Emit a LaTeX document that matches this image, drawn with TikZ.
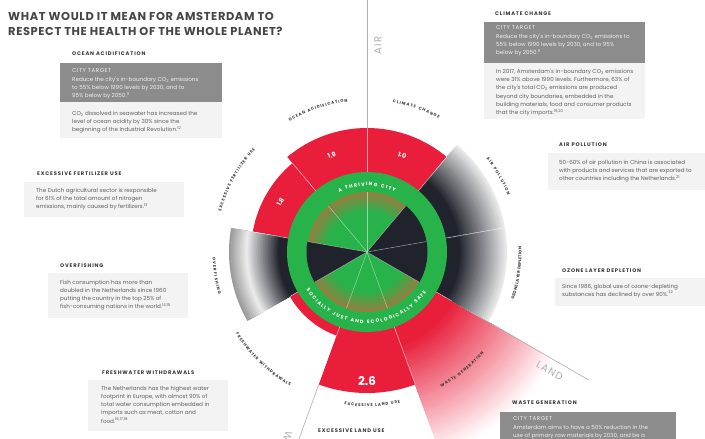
\documentclass[tikz,border=0pt]{standalone}
\usepackage{fontspec}
\setmainfont{Poppins}
\newfontfamily\titlefont[LetterSpace=5.5]{Poppins}
\newfontfamily\hdfont[LetterSpace=16]{Poppins}
\newfontfamily\bodyff{Poppins}
\newfontfamily\ctff[LetterSpace=10]{Poppins}
\newfontfamily\wlff{Poppins}
\newfontfamily\axff[LetterSpace=12]{Poppins}
\usetikzlibrary{decorations.text}
\definecolor{cred}{RGB}{232,30,58}
\definecolor{cgreen}{RGB}{40,178,74}
\definecolor{cdark}{RGB}{32,35,43}
\definecolor{cbrown}{RGB}{150,125,62}
\definecolor{clight}{RGB}{238,238,238}
\definecolor{crim}{RGB}{150,150,150}
\definecolor{lbox}{RGB}{243,243,243}
\definecolor{dbox}{RGB}{140,140,140}
\definecolor{htxt}{RGB}{55,55,55}
\definecolor{btxt}{RGB}{95,95,95}
\definecolor{ttl}{RGB}{70,70,70}
\definecolor{axc}{RGB}{175,175,175}
% annular sector: colour, angle1, angle2, inner r, outer r
\newcommand\annsec[5]{\fill[#1] (#2:#4) arc[start angle=#2,end angle=#3,radius=#4] -- (#3:#5) arc[start angle=#3,end angle=#2,radius=#5] -- cycle;}
% radial gradient sector: a1, a2, rin, rout, colour in, colour out, steps
\newcommand\gradsec[7]{%
  \foreach \k in {#7,...,1}{%
    \pgfmathsetmacro\rr{#3+(#4-#3)*\k/#7}%
    \pgfmathtruncatemacro\pp{100*(\k-0.5)/#7}%
    \annsec{#6!\pp!#5}{#1}{#2}{#3}{\rr}%
  }}
\begin{document}
\begin{tikzpicture}[x=1pt,y=1pt,
  hdr/.style={font=\hdfont\bfseries\fontsize{5.2}{6}\selectfont, text=htxt, anchor=base west, inner sep=0},
  body/.style={font=\bodyff\fontsize{5.6}{8.3}\selectfont, text=btxt, align=left, anchor=north west, inner sep=0},
  bodyw/.style={body, text=white!94!black},
  ttlstyle/.style={font=\titlefont\bfseries\fontsize{11.4}{13}\selectfont, text=ttl, anchor=base west, inner sep=0},
  val/.style={font=\bodyff\bfseries\fontsize{6.5}{7}\selectfont, text=white, inner sep=0},
  axlbl/.style={font=\axff\fontsize{10}{12}\selectfont, text=axc, inner sep=0},
  axline/.style={draw=axc, line width=0.6pt},
  sep/.style={draw=white, opacity=0.6, line width=0.6pt},
  wlabel/.style={decorate, decoration={text along path, text align=fit to path,
     text={|\wlff\bfseries\fontsize{4.0}{5}\selectfont\color{htxt}|#1}}},
  rlabel/.style={decorate, decoration={text along path, text align=fit to path,
     text={|\wlff\bfseries\fontsize{4.8}{5}\selectfont\color{white}|#1}}}
]
\useasboundingbox (0,0) rectangle (705,439);
\fill[white] (0,0) rectangle (705,439);
\clip (0,0) rectangle (705,439);

% ================= wheel =================
\begin{scope}[shift={(367,187)}]
  % waste generation (fading red)
  \gradsec{-30}{-70}{98}{215}{cred}{white}{45}
  \annsec{cred}{-30}{-70}{79.5}{98.5}
  % red segments
  \annsec{cred}{130}{90}{79.5}{124}
  \annsec{cred}{90}{50}{79.5}{124}
  \annsec{cred}{170}{130}{79.5}{116}
  \annsec{cred}{-70}{-110}{79.5}{141}
  \annsec{cred}{-110}{-150}{79.5}{89}
  % grey segments
  \gradsec{50}{10}{92}{140}{cdark}{clight}{30}
  \annsec{cdark}{50}{10}{79.5}{92.5}
  \gradsec{10}{-30}{92}{140}{cdark}{clight}{30}
  \annsec{cdark}{10}{-30}{79.5}{92.5}
  \gradsec{170}{210}{120}{138}{clight}{crim}{10}
  \gradsec{170}{210}{88}{120.5}{cdark}{clight}{20}
  \annsec{cdark}{170}{210}{79.5}{88.5}
  % separators between outer segments
  \foreach \a/\r in {130/116,90/124,50/124,10/140,-30/98,-70/141,-110/89,-150/89,170/116}
    \draw[sep] (\a:80) -- (\a:\r);
  % green ring
  \fill[cgreen] (0,0) circle[radius=80];
  % inner pie
  \gradsec{130}{90}{40}{60}{cgreen}{cbrown}{12}
  \gradsec{90}{50}{40}{60}{cgreen}{cbrown}{12}
  \gradsec{170}{130}{40}{60}{cgreen}{cbrown}{12}
  \gradsec{-30}{-70}{40}{60}{cgreen}{cbrown}{12}
  \gradsec{-70}{-110}{40}{60}{cgreen}{cbrown}{12}
  \gradsec{-110}{-150}{40}{60}{cgreen}{cbrown}{12}
  \fill[cgreen] (0,0) circle[radius=40];
  \annsec{cdark}{50}{10}{0.01}{60.5}
  \annsec{cdark}{10}{-30}{0.01}{60.5}
  \annsec{cdark}{170}{210}{0.01}{60.5}
  \foreach \a in {90,50,10,-30,-70,-110,-150,170,130}
    \draw[draw=white, opacity=0.5, line width=0.5pt] (0,0) -- (\a:60);
  % ring texts
  \path[rlabel={A THRIVING CITY}] (115:66) arc[start angle=115,end angle=65,radius=66];
  \path[rlabel={SOCIALLY JUST AND ECOLOGICALLY SAFE}] (-148:71.5) arc[start angle=-148,end angle=-34,radius=71.5];
  % values
  \node[val, rotate=20] (v19) at (110:103) {1.9};
  \node[val, rotate=-20] (v10) at (70:103) {1.0};
  \node[val, rotate=60] (v18) at (150:100) {1.8};
  \node[val, font=\bodyff\bfseries\fontsize{12}{13}\selectfont] (v26) at (-90:129) {2.6};
  % segment labels (top: clockwise, bottom: counter-clockwise)
  \path[wlabel={OCEAN ACIDIFICATION}] (120.7:151.5) arc[start angle=120.7,end angle=97.3,radius=151.5];
  \path[wlabel={CLIMATE CHANGE}] (80.3:151.5) arc[start angle=80.3,end angle=61.7,radius=151.5];
  \path[wlabel={AIR POLLUTION}] (38:151.5) arc[start angle=38,end angle=22,radius=151.5];
  \path[wlabel={EXCESSIVE FERTILIZER USE}] (164.5:151.5) arc[start angle=164.5,end angle=137.5,radius=151.5];
  \path[wlabel={OZONE LAYER DEPLETION}] (-18:154.5) arc[start angle=-18,end angle=2,radius=154.5];
  \path[wlabel={WASTE GENERATION}] (-61.2:154.5) arc[start angle=-61.2,end angle=-40.8,radius=154.5];
  \path[wlabel={EXCESSIVE LAND USE}] (-98.4:154.5) arc[start angle=-98.4,end angle=-77.6,radius=154.5];
  \path[wlabel={FRESHWATER WITHDRAWALS}] (-148.1:154.5) arc[start angle=-148.1,end angle=-119.9,radius=154.5];
  \path[wlabel={OVERFISHING}] (182:154.5) arc[start angle=182,end angle=196,radius=154.5];
  % axis lines
  \coordinate (airA) at (90:124);  \coordinate (airB) at (90:260);
  \coordinate (landA) at (-30:120); \coordinate (landB) at (-30:256);
  \coordinate (watA) at (-110:141); \coordinate (watB) at (-110:240);
  \draw[axline] (airA) -- (airB);
  \draw[axline] (landA) -- (landB);
  \draw[axline] (watA) -- (watB);
  \node[axlbl, rotate=90] (lblAir) at (87:207) {AIR};
  \node[axlbl, rotate=-30] (lblLand) at (-33:218) {LAND};
  \node[axlbl, rotate=-110] (lblWater) at (-113:215) {WATER};
\end{scope}

% ================= texts (image coordinates) =================
\begin{scope}[shift={(0,439)}, yscale=-1]
  \node[ttlstyle] (t1) at (8,20.7) {WHAT WOULD IT MEAN FOR AMSTERDAM TO};
  \node[ttlstyle] (t2) at (8,36) {RESPECT THE HEALTH OF THE WHOLE PLANET?};

  % ocean acidification
  \node[hdr] (hOA) at (72,56) {OCEAN ACIDIFICATION};
  \fill[dbox] (60,63) rectangle (222,102);
  \node[bodyw] (bOA1) at (72,68.7) {{\ctff CITY TARGET}\\Reduce the city's in-boundary CO\textsubscript{2} emissions\\to 55\% below 1990 levels by 2030, and to\\95\% below by 2050.\textsuperscript{11}};
  \fill[lbox] (60,102) rectangle (222,138);
  \node[body] (bOA2) at (72,110.6) {CO\textsubscript{2} dissolved in seawater has increased the\\level of ocean acidity by 30\% since the\\beginning of the Industrial Revolution.\textsuperscript{12}};

  % fertilizer
  \node[hdr] (hFU) at (37,176) {EXCESSIVE FERTILIZER USE};
  \fill[lbox] (24,182) rectangle (184,217);
  \node[body] (bFU) at (36,187.6) {The Dutch agricultural sector is responsible\\for 61\% of the total amount of nitrogen\\emissions, mainly caused by fertilizers.\textsuperscript{13}};

  % overfishing
  \node[hdr] (hOF) at (60,268) {OVERFISHING};
  \fill[lbox] (48,273) rectangle (188,318);
  \node[body] (bOF) at (60,279.6) {Fish consumption has more than\\doubled in the Netherlands since 1960\\putting the country in the top 25\% of\\fish-consuming nations in the world.\textsuperscript{14,15}};

  % freshwater
  \node[hdr] (hFW) at (102,375) {FRESHWATER WITHDRAWALS};
  \fill[lbox] (88,380) rectangle (228,431);
  \node[body] (bFW) at (101,385.6) {The Netherlands has the highest water\\footprint in Europe, with almost 90\% of\\total water consumption embedded in\\imports such as meat, cotton and\\food.\textsuperscript{16,17,18}};

  % climate change
  \node[hdr] (hCC) at (495,16) {CLIMATE CHANGE};
  \fill[dbox] (484,22) rectangle (645,63);
  \node[bodyw] (bCC1) at (496,25.6) {{\ctff CITY TARGET}\\Reduce the city's in-boundary CO\textsubscript{2} emissions to\\55\% below 1990 levels by 2030, and to 95\%\\below by 2050.\textsuperscript{11}};
  \fill[lbox] (484,63) rectangle (645,119);
  \node[body] (bCC2) at (496,68.6) {In 2017, Amsterdam's in-boundary CO\textsubscript{2} emissions\\were 31\% above 1990 levels. Furthermore, 63\% of\\the city's total CO\textsubscript{2} emissions are produced\\beyond city boundaries, embedded in the\\building materials, food and consumer products\\that the city imports.\textsuperscript{19,20}};

  % air pollution
  \node[hdr] (hAP) at (559,147) {AIR POLLUTION};
  \fill[lbox] (548,153) rectangle (705,190);
  \node[body] (bAP) at (559,159.6) {50-60\% of air pollution in China is associated\\with products and services that are exported to\\other countries including the Netherlands.\textsuperscript{21}};

  % ozone
  \node[hdr] (hOZ) at (562,273) {OZONE LAYER DEPLETION};
  \fill[lbox] (555,278) rectangle (705,306);
  \node[body] (bOZ) at (562,283.6) {Since 1986, global use of ozone-depleting\\substances has declined by over 90\%.\textsuperscript{22}};

  % waste generation
  \node[hdr] (hWG) at (512,405) {WASTE GENERATION};
  \fill[dbox] (500,412) rectangle (676,445);
  \node[bodyw] (bWG) at (513,416.6) {{\ctff CITY TARGET}\\Amsterdam aims to have a 50\% reduction in the\\use of primary raw materials by 2030, and be a};

  % land use
  \node[hdr] (hLU) at (318,433) {EXCESSIVE LAND USE};
\end{scope}
\end{tikzpicture}
\end{document}
